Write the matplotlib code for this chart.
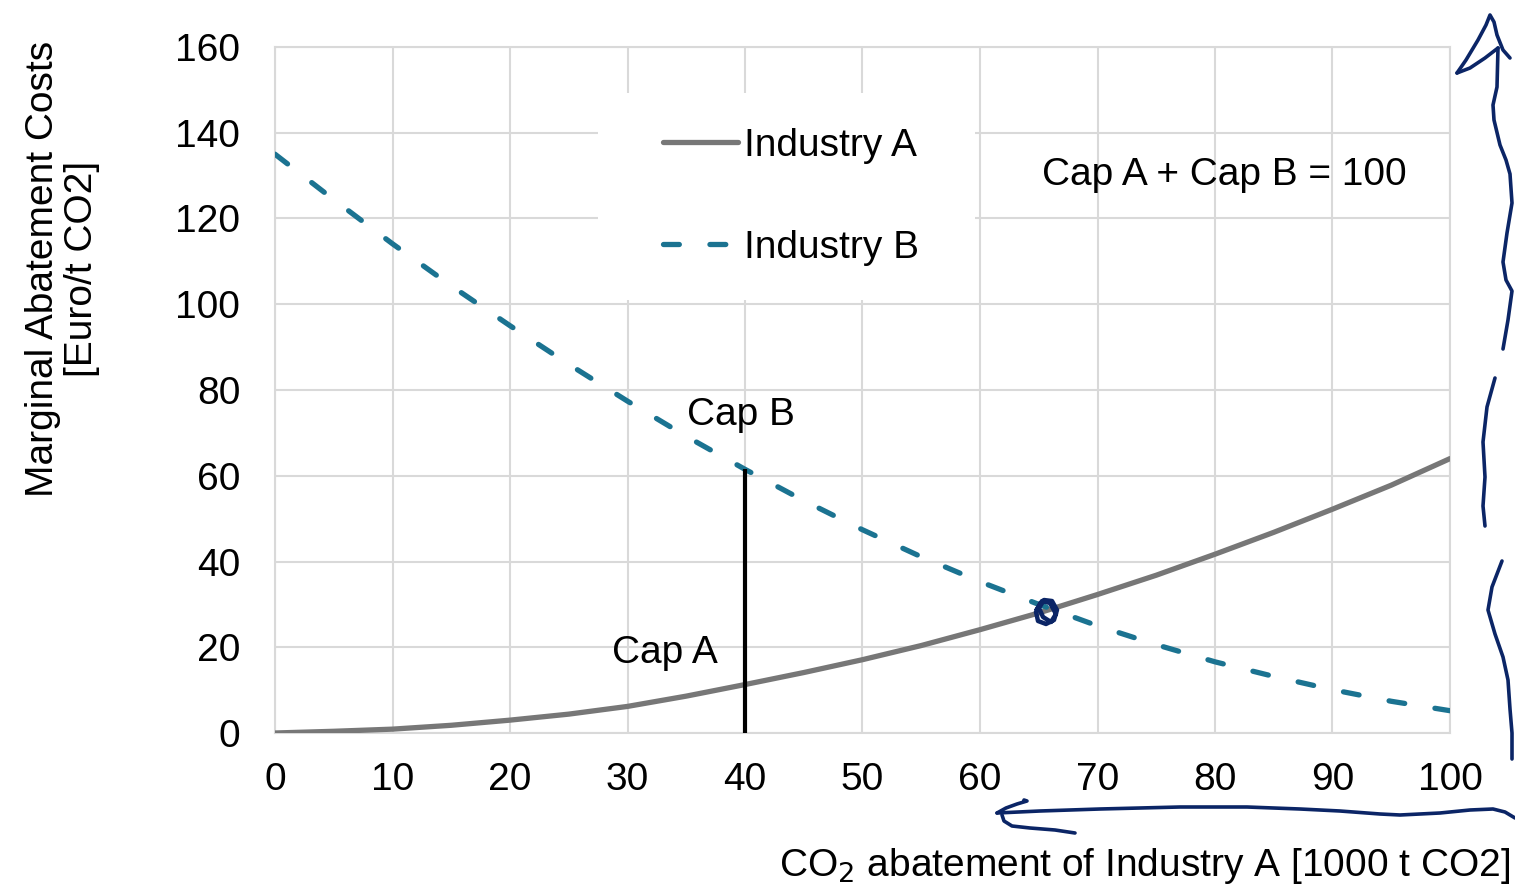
# Marginal abatement cost curves for two industries with a shared cap

import matplotlib.pyplot as plt
from matplotlib.patches import Rectangle

plt.rcParams['font.family'] = ['Liberation Sans', 'DejaVu Sans']

# abatement of industry A [1000 t CO2]
abatement = [0, 5, 10, 15, 20, 25, 30, 35, 40, 45, 50,
             55, 60, 65, 70, 75, 80, 85, 90, 95, 100]
# marginal abatement costs [Euro/t CO2]
cost_a = [0, 0.4, 0.9, 1.8, 3.0, 4.4, 6.2, 8.6, 11.3, 14.1, 17.1,
          20.4, 24.1, 28.0, 32.3, 36.8, 41.7, 46.8, 52.2, 57.8, 64.0]
cost_b = [135, 124.4, 114.1, 104.3, 95.0, 86.0, 77.4, 69.2, 61.5, 54.2, 47.4,
          41.1, 35.3, 30.0, 25.0, 20.6, 16.6, 13.2, 10.1, 7.4, 5.2]

cap_a = 40
x_ticks = list(range(0, 101, 10))
y_ticks = list(range(0, 161, 20))

GRID = '#d9d9d9'
GRAY = '#777777'
TEAL = '#1b7391'
INK = '#0b2566'
FS = 28

fig = plt.figure(figsize=(15.15, 8.89), dpi=100)
ax = fig.add_axes([275 / 1515, 156 / 889, 1175 / 1515, 686 / 889])

ax.set_xlim(0, 100)
ax.set_ylim(0, 160)
ax.set_xticks(x_ticks)
ax.set_yticks(y_ticks)
ax.tick_params(length=0, labelsize=FS)
ax.tick_params(axis='x', pad=21)
ax.tick_params(axis='y', pad=25)
ax.grid(True, color=GRID, linewidth=1.5, zorder=0)
ax.set_axisbelow(True)
for s in ax.spines.values():
    s.set_color(GRID)
    s.set_linewidth(1.5)

# white box behind the legend hides the grid
ax.add_patch(Rectangle((0.275, 0.631), 0.321, 0.302, transform=ax.transAxes,
                       facecolor='white', edgecolor='none', zorder=1))

ax.plot(abatement, cost_a, color=GRAY, linewidth=3.8, solid_capstyle='round',
        solid_joinstyle='round', label='Industry A', zorder=3)
ax.plot(abatement, cost_b, color=TEAL, linewidth=3.8, dash_capstyle='round',
        linestyle=(0, (3.0, 5.8)), label='Industry B', zorder=3)

# cap line at the chosen split
ax.plot([cap_a, cap_a], [0, cost_b[abatement.index(cap_a)]], color='black',
        linewidth=3, zorder=4, solid_capstyle='butt')

leg = ax.legend(loc='upper left', bbox_to_anchor=(0.330, 0.882), frameon=False,
                fontsize=FS, handlelength=1.93, handletextpad=0.17,
                labelspacing=1.7, borderpad=0, borderaxespad=0)

ax.text(65.3, 130.2, 'Cap A + Cap B = 100', fontsize=FS, va='center', ha='left')
ax.text(35.1, 74.2, 'Cap B', fontsize=FS, va='center', ha='left')
ax.text(28.7, 18.7, 'Cap A', fontsize=FS, va='center', ha='left')

ax.set_ylabel('Marginal Abatement Costs\n[Euro/t CO2]', fontsize=FS,
              multialignment='center', linespacing=1.1)
ax.yaxis.set_label_coords(-0.149, 0.676)
ax.set_xlabel('CO$_2$ abatement of Industry A [1000 t CO2]', fontsize=FS,
              ha='right', va='center')
ax.xaxis.set_label_coords(1.051, -0.194)

# pen strokes drawn over the chart, in pixel space
pen = fig.add_axes([0, 0, 1, 1], facecolor='none')
pen.set_xlim(0, 1515)
pen.set_ylim(889, 0)
pen.axis('off')
pen.set_zorder(10)

strokes = [
    # up arrow on the right edge
    ([1457, 1466, 1478, 1486, 1490, 1494, 1497, 1503, 1510],
     [73, 60, 40, 25, 15, 22, 35, 50, 58]),
    ([1457, 1470, 1485, 1498],
     [73, 68, 58, 48]),
    ([1498, 1497, 1493, 1494, 1500, 1506, 1510, 1512, 1507, 1503, 1506, 1512, 1508, 1503],
     [48, 87, 105, 120, 145, 160, 174, 203, 233, 262, 280, 291, 320, 349]),
    ([1495, 1487, 1483, 1485, 1483, 1485],
     [378, 407, 442, 477, 506, 526]),
    ([1502, 1492, 1488, 1495, 1503, 1508, 1510, 1512, 1512],
     [561, 587, 610, 634, 657, 680, 709, 733, 759]),
    # left arrow under the x axis
    ([1515, 1505, 1493, 1470, 1440, 1400, 1380, 1340, 1300, 1247, 1180, 1100, 1040, 997],
     [818, 812, 809, 810, 813, 815, 814, 811, 809, 807, 807, 809, 811, 813]),
    ([997, 1006, 1017, 1027, 1024],
     [813, 808, 804, 801, 800]),
    ([1002, 1004, 1012, 1030, 1055, 1075],
     [815, 821, 826, 828, 830, 833]),
]
for xs, ys in strokes:
    pen.plot(xs, ys, color=INK, linewidth=2.6, solid_capstyle='round',
             solid_joinstyle='round')

# scribbled circle at the intersection
loop_x = [1040, 1036, 1038, 1046, 1054, 1057, 1052, 1044, 1039, 1043, 1051, 1056, 1050, 1042, 1037]
loop_y = [604, 612, 621, 624, 620, 610, 601, 600, 608, 617, 622, 614, 603, 601, 609]
pen.plot(loop_x, loop_y, color=INK, linewidth=3.2, solid_joinstyle='round')

fig.savefig('out.png', dpi=100)
